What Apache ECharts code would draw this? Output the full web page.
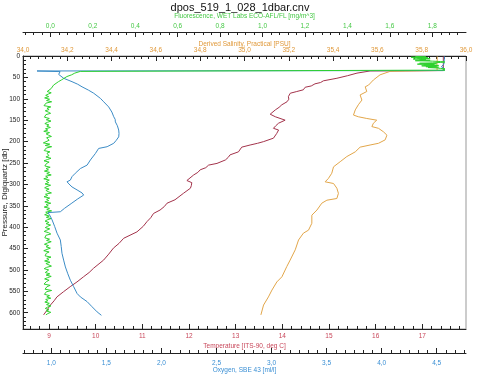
<!DOCTYPE html>
<html><head><meta charset="utf-8">
<script src="https://cdn.jsdelivr.net/npm/echarts@6/dist/echarts.min.js"></script>
<style>html,body{margin:0;padding:0;background:#fff}#c{width:480px;height:374px}</style>
</head><body><div id="c"></div>
<script>
// ---- data: [pressure (db), value] ----
const temperature = [[1,17.45],[34,17.45],[35,15.88],[40,15.60],[46,15.40],[52,15.17],[58,14.88],[62,14.82],[65,14.70],[70,14.62],[73,14.49],[79,14.45],[83,14.31],[87,14.17],[95,14.13],[101,14.14],[107,14.10],[114,13.99],[120,13.93],[126,13.85],[136,13.74],[142,13.85],[150,14.06],[157,13.92],[163,13.86],[169,13.81],[173,13.92],[181,13.88],[192,13.81],[200,13.60],[204,13.47],[208,13.31],[213,13.13],[224,13.06],[231,12.88],[237,12.84],[243,12.78],[251,12.60],[255,12.42],[261,12.36],[266,12.24],[272,12.19],[278,12.10],[291,11.955],[296,12.06],[303,12.05],[309,12.03],[321,11.88],[336,11.70],[344,11.53],[352,11.47],[360,11.38],[368,11.24],[378,11.18],[387,11.10],[398,11.02],[411,10.885],[426,10.60],[438,10.50],[449,10.38],[463,10.28],[477,10.17],[496,9.955],[506,9.86],[516,9.74],[528,9.60],[539,9.456],[551,9.31],[563,9.17],[572,9.11],[582,9.03],[594,8.957],[605,8.884]];
const salinity = [[1,35.87],[12,35.87],[24,35.868],[34,35.87],[36,35.657],[44,35.612],[56,35.582],[68,35.56],[72,35.545],[83,35.552],[91,35.522],[103,35.53],[114,35.514],[126,35.50],[138,35.492],[142,35.514],[146,35.552],[150,35.597],[157,35.582],[165,35.575],[169,35.605],[177,35.627],[185,35.643],[196,35.635],[204,35.605],[208,35.567],[213,35.522],[224,35.50],[235,35.462],[247,35.432],[259,35.402],[274,35.394],[286,35.379],[294,35.364],[298,35.402],[309,35.417],[321,35.424],[333,35.417],[337,35.372],[344,35.349],[360,35.327],[372,35.304],[391,35.304],[407,35.289],[414,35.266],[430,35.244],[453,35.229],[477,35.206],[492,35.191],[516,35.169],[528,35.146],[547,35.124],[563,35.108],[582,35.086],[605,35.074]];
const oxygen = [[1,4.57],[8,4.57],[13,4.565],[16,4.548],[19,4.566],[22,4.552],[25,4.542],[28,4.563],[31,4.57],[34,4.57],[35,0.87],[36.5,1.08],[43,1.067],[52,1.112],[60,1.188],[66,1.24],[72,1.279],[80,1.339],[87,1.385],[99,1.446],[107,1.476],[119,1.521],[131,1.55],[142,1.567],[148,1.58],[154,1.582],[163,1.60],[173,1.612],[181,1.615],[189,1.612],[197,1.59],[204,1.567],[212,1.507],[216,1.43],[228,1.40],[243,1.355],[255,1.325],[263,1.264],[274,1.218],[282,1.188],[290,1.173],[294,1.143],[299,1.16],[306,1.188],[313,1.234],[320,1.279],[325,1.294],[334,1.24],[345,1.18],[356,1.12],[364,1.082],[366,0.97],[374,0.99],[383,1.007],[398,1.03],[414,1.052],[430,1.082],[445,1.09],[461,1.097],[477,1.112],[493,1.128],[509,1.15],[524,1.173],[539,1.203],[555,1.234],[563,1.264],[574,1.325],[586,1.37],[598,1.416],[606,1.455]];
const fluorescence = [[1,1.72],[2,1.77],[3,1.70],[4,1.78],[5,1.73],[6,1.79],[7,1.71],[8,1.77],[9,1.74],[10,1.79],[11,1.72],[12,1.80],[13,1.84],[14,1.86],[15,1.84],[16,1.80],[17,1.74],[18,1.82],[19,1.73],[20,1.81],[21,1.76],[22,1.83],[23,1.75],[24,1.82],[25,1.77],[26,1.83],[27,1.78],[28,1.82],[29,1.84],[30,1.86],[31,1.86],[32,1.85],[33,1.86],[34,1.86],[35,1.86],[36,0.141],[40,0.115],[44,0.10],[48,0.078],[52,0.07],[56,0.052],[60,0.038],[64,0.03],[68,0.015],[72,0.012],[76,0.004],
[80,-0.002],[83,-0.015],[86,0.004],[89,-0.010],[92,-0.022],[95,-0.008],[98,-0.027],[101,-0.004],[104,-0.018],[107,0.006],[110,-0.020],[113,-0.011],[116,-0.030],[119,0.002],[122,-0.016],[125,-0.006],[128,-0.024],[131,-0.010],[134,0.001],[137,-0.021],[140,-0.013],[143,-0.028],[146,-0.005],[149,-0.019],[152,0.003],[155,-0.014],[158,-0.026],[161,-0.007],[164,-0.017],[167,0.000],[170,-0.023],[173,-0.012],[176,-0.031],[179,-0.004],[182,-0.020],[185,-0.009],[188,0.005],[191,-0.018],[194,-0.027],[197,-0.006],[200,-0.015],[203,-0.033],[206,-0.003],[209,-0.024],[212,0.006],[215,-0.019],[218,-0.010],[221,-0.029],[224,-0.002],[227,-0.016],[230,-0.025],[233,-0.007],[236,-0.021],[239,0.003],[242,-0.014],[245,-0.030],[248,-0.006],[251,-0.018],[254,-0.011],[257,-0.026],[260,-0.001],[263,-0.020],[266,-0.009],[269,-0.028],[272,-0.004],[275,-0.017],[278,0.004],[281,-0.022],[284,-0.012],[287,-0.031],[290,-0.005],[293,-0.019],[296,-0.008],[299,-0.025],[302,0.001],[305,-0.016],[308,-0.027],[311,-0.006],[314,-0.021],[317,-0.011],[320,0.005],[323,-0.023],[326,-0.013],[329,-0.030],[332,-0.003],[335,-0.018],[338,-0.008],[341,-0.026],[344,0.002],[347,-0.020],[350,-0.010],[353,-0.029],[356,-0.004],[359,-0.017],[362,0.006],[365,-0.022],[368,-0.012],[371,-0.027],[374,-0.005],[377,-0.019],[380,0.003],[383,-0.015],[386,-0.025],[389,-0.007],[392,-0.020],[395,0.001],[398,-0.013],
[401,-0.024],[404,-0.003],[407,-0.017],[410,-0.029],[413,-0.008],[416,0.002],[419,-0.021],[422,-0.012],[425,-0.026],[428,-0.004],[431,-0.018],[434,0.004],[437,-0.014],[440,-0.028],[443,-0.009],[446,-0.020],[449,0.000],[452,-0.016],[455,-0.031],[458,-0.006],[461,-0.019],[464,-0.011],[467,-0.025],[470,0.003],[473,-0.017],[476,-0.007],[479,-0.027],[482,-0.002],[485,-0.021],[488,-0.012],[491,0.005],[494,-0.018],[497,-0.029],[500,-0.008],[503,-0.015],[506,-0.024],[509,-0.003],[512,-0.020],[515,0.004],[518,-0.013],[521,-0.027],[524,-0.006],[527,-0.018],[530,-0.010],[533,-0.030],[536,-0.001],[539,-0.016],[542,-0.008],[545,-0.025],[548,0.006],[551,-0.019],[554,-0.011],[557,-0.028],[560,-0.004],[563,-0.017],[566,0.002],[569,-0.022],[572,-0.012],[575,-0.026],[578,-0.005],[581,-0.018],[584,0.003],[587,-0.014],[590,-0.024],[593,-0.007],[596,-0.019],[599,0.002],[602,-0.012],[605,-0.021]];

// ---- tick labels ----
const pressTicks = [0,50,100,150,200,250,300,350,400,450,500,550,600];
const tempTicks = [9,10,11,12,13,14,15,16,17];
const oxyTicks = [1.0,1.5,2.0,2.5,3.0,3.5,4.0,4.5];
const salTicks = [34.0,34.2,34.4,34.6,34.8,35.0,35.2,35.4,35.6,35.8,36.0];
const fluoTicks = [0.0,0.2,0.4,0.6,0.8,1.0,1.2,1.4,1.6,1.8];

const FONT = '"Liberation Sans", Arial, sans-serif';
const AX = '#222';
const C = {
  temp: {line:'#a3334b', text:'#c8475a'},
  sal:  {line:'#e2a64a', text:'#e0993a'},
  oxy:  {line:'#3c8cc6', text:'#3a8fd4'},
  fluo: {line:'#2fd12f', text:'#45c845'}
};
const dec = v => v.toFixed(1).replace('.', ',');

function xAx(o) {
  return {
    type:'value', gridIndex:0, position:o.pos, offset:o.off, min:o.min, max:o.max,
    splitNumber:o.split, name:o.name, nameLocation:'middle', nameGap:o.gap, nameMoveOverlap:false,
    nameTextStyle:{color:o.col.text, fontSize:6.5, fontFamily:FONT},
    axisLine:{show:true, onZero:false, lineStyle:{color:AX, width:1}},
    axisTick:{show:true, inside:true, length:5, customValues:o.ticks, lineStyle:{color:AX}},
    minorTick:{show:true, splitNumber:o.minor, length:3, lineStyle:{color:AX}},
    axisLabel:{customValues:o.ticks, margin:o.margin, color:o.col.text, fontSize:6.5, fontFamily:FONT, formatter:o.fmt},
    splitLine:{show:false}
  };
}

const option = {
  animation:false,
  title:{text:'dpos_519_1_028_1dbar.cnv', left:'center', top:0, padding:[2,5],
    textStyle:{fontSize:11, fontWeight:'normal', color:'#111', fontFamily:FONT}},
  grid:{left:23, right:14, top:56, bottom:45, containLabel:false, outerBoundsMode:'none',
    show:true, borderColor:'#999', borderWidth:1},
  xAxis:[
    xAx({pos:'bottom', off:0, min:8.443, max:17.936, split:9, minor:5, ticks:tempTicks, col:C.temp,
      name:'Temperature [ITS-90, deg C]', gap:13.5, margin:3.5, fmt:v=>String(Math.round(v))}),
    xAx({pos:'bottom', off:24, min:0.743, max:4.766, split:8, minor:6, ticks:oxyTicks, col:C.oxy,
      name:'Oxygen, SBE 43 [ml/l]', gap:13.5, margin:7, fmt:dec}),
    xAx({pos:'top', off:0, min:34, max:36, split:10, minor:6, ticks:salTicks, col:C.sal,
      name:'Derived Salinity, Practical [PSU]', gap:8.5, margin:2, fmt:dec}),
    xAx({pos:'top', off:24, min:-0.129, max:1.959, split:10, minor:5, ticks:fluoTicks, col:C.fluo,
      name:'Fluorescence, WET Labs ECO-AFL/FL [mg/m^3]', gap:12, margin:2.5, fmt:dec})
  ],
  yAxis:[{
    type:'value', inverse:true, min:0, max:638, splitNumber:13,
    name:'Pressure, Digiquartz [db]', nameLocation:'middle', nameGap:14, nameMoveOverlap:false,
    nameTextStyle:{color:'#222', fontSize:8, fontFamily:FONT},
    axisLine:{show:true, onZero:false, lineStyle:{color:AX}},
    axisTick:{show:true, inside:true, length:5, customValues:pressTicks, lineStyle:{color:AX}},
    minorTick:{show:true, splitNumber:5, length:3, lineStyle:{color:AX}},
    axisLabel:{customValues:pressTicks, margin:3, color:'#222', fontSize:6.5, fontFamily:FONT},
    splitLine:{show:false}
  }],
  series:[
    {name:'temp', data:temperature, xAxis:0, col:C.temp},
    {name:'sal', data:salinity, xAxis:2, col:C.sal},
    {name:'oxy', data:oxygen, xAxis:1, col:C.oxy},
    {name:'fluo', data:fluorescence, xAxis:3, col:C.fluo}
  ].map(s => ({
    type:'line', name:s.name, xAxisIndex:s.xAxis, yAxisIndex:0,
    data:s.data.map(d => [d[1], d[0]]),
    showSymbol:false, symbol:'none', silent:true,
    lineStyle:{color:s.col.line, width:1}
  }))
};
echarts.init(document.getElementById('c')).setOption(option);
</script></body></html>
